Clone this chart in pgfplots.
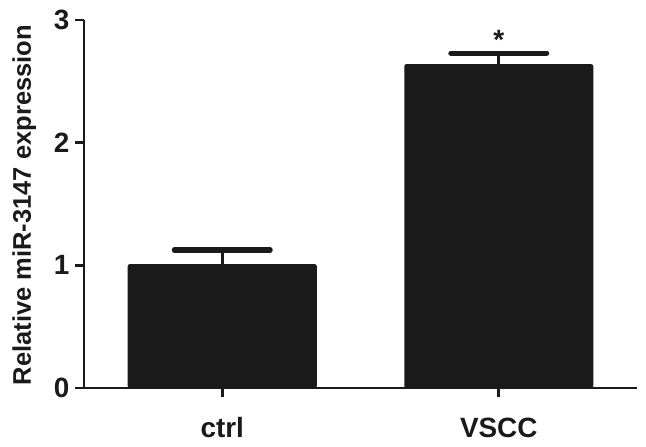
\documentclass[border=0pt]{standalone}
\usepackage{pgfplots}
\pgfplotsset{compat=1.18}
\usepackage{fontspec}
\setmainfont{Liberation Sans}
\definecolor{barc}{HTML}{1A1A1A}
\begin{document}
\begin{tikzpicture}
\path[use as bounding box] (-84bp,-59bp) rectangle (562bp,388bp);
\begin{axis}[
  at={(0,0)}, anchor=south west,
  scale only axis, width=553bp, height=368bp,
  xmin=-0.5, xmax=1.5, ymin=0, ymax=3,
  axis lines=left, axis line style={-, line width=2.6bp, color=barc},
  xtick={0,1}, xticklabels={ctrl,VSCC},
  ytick={0,1,2,3},
  tick align=outside, xtick pos=bottom, ytick pos=left,
  major tick length=9bp,
  every tick/.style={line width=2.6bp, color=barc},
  /pgf/number format/assume math mode=true,
  ticklabel style={font=\fontsize{28}{32}\selectfont\bfseries, color=barc},
  xticklabel style={yshift=-17bp},
  yticklabel style={xshift=-2bp},
  ylabel={Relative miR-3147 expression},
  ylabel style={at={(axis description cs:-0.096,0.497)}, anchor=base, font=\fontsize{25.6}{30}\selectfont\bfseries, color=barc},
  ybar, bar width=189bp,
  clip=false,
]
\addplot[fill=barc, draw=none, rounded corners=2bp,
  error bars/.cd, y dir=plus, y explicit, error mark=|,
  error bar style={line width=3bp, color=barc},
  error mark options={line width=5bp, mark size=48bp, line cap=round, color=barc}]
  coordinates {(0,1.01) +- (0,0.115) (1,2.64) +- (0,0.09)};
\node[font=\fontsize{28}{30}\selectfont\bfseries, color=barc] at (axis cs:1,2.84) {*};
\end{axis}
\end{tikzpicture}
\end{document}
